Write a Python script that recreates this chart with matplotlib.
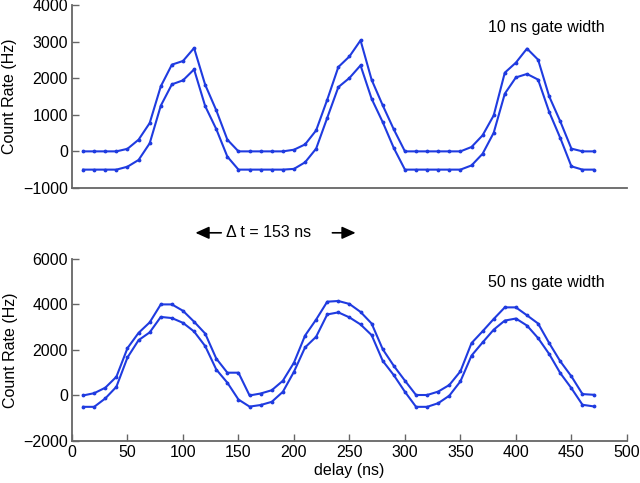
import matplotlib
matplotlib.use('Agg')
import matplotlib.pyplot as plt

plt.rcParams['font.family'] = ['Liberation Sans', 'DejaVu Sans']
plt.rcParams['font.size'] = 11.5

# delay points (ns)
delay = [10, 20, 30, 40, 50, 60, 70, 80, 90, 100,
         110, 120, 130, 140, 150, 160, 170, 180, 190, 200,
         210, 220, 230, 240, 250, 260, 270, 280, 290, 300,
         310, 320, 330, 340, 350, 360, 370, 380, 390, 400,
         410, 420, 430, 440, 450, 460, 470]

# 10 ns gate width, two traces
gate10_a = [0, 0, 0, 0, 70, 320, 775, 1780, 2375, 2475,
            2830, 1825, 1125, 320, 0, 0, 0, 0, 0, 45,
            190, 575, 1415, 2310, 2600, 3040, 1960, 1260, 600, 0,
            0, 0, 0, 0, 0, 120, 440, 985, 2155, 2430,
            2815, 2510, 1505, 820, 75, 0, 0]
gate10_b = [-500, -500, -500, -500, -420, -235, 220, 1250, 1835, 1945,
            2245, 1240, 610, -145, -500, -500, -500, -500, -500, -480,
            -300, 75, 920, 1760, 2010, 2355, 1440, 800, 90, -500,
            -500, -500, -500, -500, -500, -385, -65, 510, 1580, 2025,
            2120, 1965, 1080, 365, -410, -500, -500]

# 50 ns gate width, two traces
gate50_a = [0, 100, 340, 820, 2080, 2750, 3210, 4000, 4000, 3720,
            3240, 2720, 1620, 1000, 1000, 0, 85, 230, 645, 1440,
            2630, 3335, 4120, 4150, 4020, 3670, 3160, 2030, 1300, 650,
            20, 20, 170, 460, 1060, 2300, 2820, 3360, 3870, 3870,
            3520, 3160, 2300, 1500, 840, 60, 30]
gate50_b = [-500, -500, -130, 380, 1670, 2430, 2770, 3450, 3400, 3190,
            2810, 2170, 1140, 560, -180, -490, -420, -280, 160, 1040,
            2110, 2580, 3560, 3650, 3430, 3120, 2650, 1520, 890, 160,
            -500, -500, -340, -10, 620, 1750, 2330, 2890, 3290, 3380,
            3070, 2520, 1820, 980, 320, -410, -480]

blue = '#1f3be0'
spine_col = '0.4'

fig = plt.figure(figsize=(6.4, 4.83), dpi=100)
ax1 = fig.add_axes([0.1125, 0.611, 0.867, 0.378])
ax2 = fig.add_axes([0.1125, 0.087, 0.867, 0.377])

def style(ax):
    ax.spines['top'].set_visible(False)
    ax.spines['right'].set_visible(False)
    for s in ['left', 'bottom']:
        ax.spines[s].set_color(spine_col)
        ax.spines[s].set_linewidth(1.3)
    ax.tick_params(direction='in', length=5, width=1, color=spine_col, pad=3)
    ax.set_xlim(0, 500)

# top panel
ax1.plot(delay, gate10_a, '.-', color=blue, lw=1.5, ms=3.5)
ax1.plot(delay, gate10_b, '.-', color=blue, lw=1.5, ms=3.5)
style(ax1)
ax1.set_ylim(-1000, 4000)
ax1.set_yticks([-1000, 0, 1000, 2000, 3000, 4000])
ax1.set_xticks([])
ax1.set_ylabel('Count Rate (Hz)', labelpad=4)
ax1.text(375, 3400, '10 ns gate width', va='center', ha='left')

# bottom panel
ax2.plot(delay, gate50_a, '.-', color=blue, lw=1.5, ms=3.5)
ax2.plot(delay, gate50_b, '.-', color=blue, lw=1.5, ms=3.5)
style(ax2)
ax2.set_ylim(-2000, 6000)
ax2.set_yticks([-2000, 0, 2000, 4000, 6000])
ax2.set_xticks(range(0, 501, 50))
ax2.set_xlabel('delay (ns)', labelpad=2)
ax2.set_ylabel('Count Rate (Hz)', labelpad=4)
ax2.text(375, 4950, '50 ns gate width', va='center', ha='left')

# period annotation between the panels
fig.text(0.42, 0.518, '\u0394 t = 153 ns', ha='center', va='center')
fig.add_artist(matplotlib.patches.FancyArrowPatch(
    (0.350, 0.518), (0.301, 0.518), transform=fig.transFigure,
    arrowstyle='-|>,head_length=0.55,head_width=0.25', mutation_scale=15,
    color='black', lw=1.2))
fig.add_artist(matplotlib.patches.FancyArrowPatch(
    (0.515, 0.518), (0.560, 0.518), transform=fig.transFigure,
    arrowstyle='-|>,head_length=0.55,head_width=0.25', mutation_scale=15,
    color='black', lw=1.2))

fig.savefig('out.png', dpi=100)
